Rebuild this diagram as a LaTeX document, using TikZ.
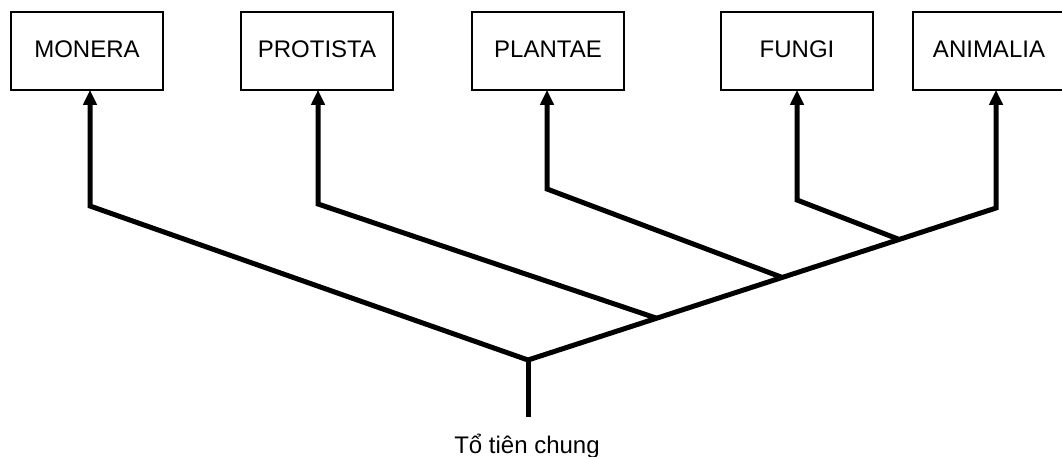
\documentclass[tikz,border=0pt]{standalone}
\usepackage{fontspec}
\setmainfont{Liberation Sans}
\usetikzlibrary{arrows.meta}
\begin{document}
\begin{tikzpicture}[x=1pt,y=-1pt,
  kingdom/.style={draw=black, line width=1.5pt, fill=white, minimum width=152pt,
    minimum height=78pt, inner sep=0pt, font=\fontsize{24}{28}\selectfont},
  branch/.style={line width=5pt, line join=miter, line cap=butt},
  toarrow/.style={branch, -{Triangle[length=15pt,width=13pt]}, shorten >=-1pt}]
  \useasboundingbox (0,0) rectangle (1062,456);

  % kingdom boxes
  \node[kingdom] (mon) at (87,51)   {\raisebox{3pt}{MONERA}};
  \node[kingdom] (pro) at (317,51)  {\raisebox{3pt}{PROTISTA}};
  \node[kingdom] (pla) at (548,51)  {\raisebox{3pt}{PLANTAE}};
  \node[kingdom] (fun) at (797,51)  {\raisebox{3pt}{FUNGI}};
  \node[kingdom] (ani) at (989,51)  {\raisebox{3pt}{ANIMALIA}};

  % root, junctions and bends of the tree
  \coordinate (base) at (528,417);
  \coordinate (root) at (528,360);
  \coordinate (j1)   at (656,318);
  \coordinate (j2)   at (781,277);
  \coordinate (j3)   at (898,239);
  \coordinate (bM)   at (90,206);
  \coordinate (bP)   at (318,204);
  \coordinate (bL)   at (547,189);
  \coordinate (bF)   at (797,200);
  \coordinate (bA)   at (996,208);

  % trunk and branches
  \draw[branch] (base) -- (root);
  \draw[toarrow] (root) -- (bA) -- (bA |- ani.south);
  \draw[toarrow] (root) -- (bM) -- (bM |- mon.south);
  \draw[toarrow] (j1) -- (bP) -- (bP |- pro.south);
  \draw[toarrow] (j2) -- (bL) -- (bL |- pla.south);
  \draw[toarrow] (j3) -- (bF) -- (bF |- fun.south);

  % common ancestor label
  \node[anchor=base, inner sep=0pt, font=\fontsize{24}{28}\selectfont] (anc) at (527,453) {Tổ tiên chung};
\end{tikzpicture}
\end{document}
